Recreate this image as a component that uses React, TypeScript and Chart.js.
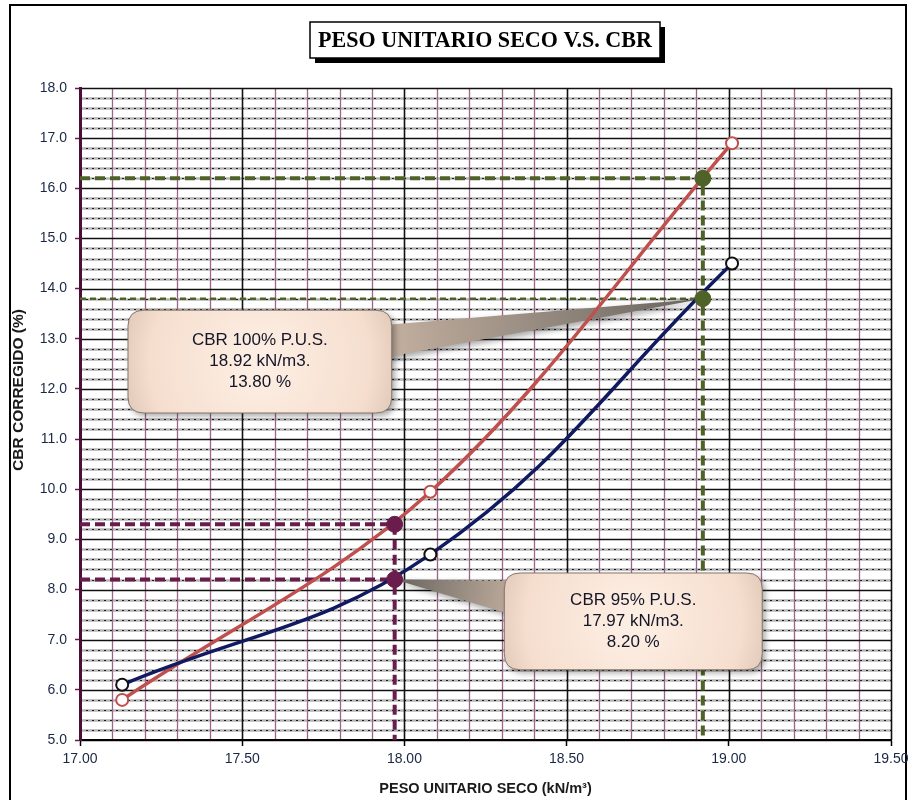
import React, { useEffect, useRef } from 'react';
import { Chart, registerables } from 'chart.js';

Chart.register(...registerables);

// ---- data ----
const pesoSeco = [17.13, 18.08, 19.01];
const cbrRed = [5.8, 9.95, 16.9];
const cbrBlue = [6.1, 8.7, 14.5];
const pus95 = 17.97;
const cbrAt95 = [9.3, 8.2];
const pus100 = 18.92;
const cbrAt100 = [16.2, 13.8];
const xMin = 17.0;
const xMax = 19.5;
const yMin = 5.0;
const yMax = 18.0;
const callout100Text = ['CBR 100% P.U.S.', '18.92 kN/m3.', '13.80 %'];
const callout95Text = ['CBR 95% P.U.S.', '17.97 kN/m3.', '8.20 %'];
const chartTitle = 'PESO UNITARIO SECO V.S. CBR';
const xTitle = 'PESO UNITARIO SECO (kN/m\u00B3)';
const yTitle = 'CBR CORREGIDO (%)';

const MAROON = '#6a1c4c';
const GREEN = '#4f6228';
const RED = '#c0504d';
const NAVY = '#0f1a60';
const TICK_COLOR = '#1a2744';
const SANS = '"Liberation Sans", Arial, sans-serif';

function roundRectPath(ctx: CanvasRenderingContext2D, l: number, t: number, r: number, b: number, rad: number) {
  ctx.beginPath();
  ctx.moveTo(l + rad, t);
  ctx.lineTo(r - rad, t);
  ctx.quadraticCurveTo(r, t, r, t + rad);
  ctx.lineTo(r, b - rad);
  ctx.quadraticCurveTo(r, b, r - rad, b);
  ctx.lineTo(l + rad, b);
  ctx.quadraticCurveTo(l, b, l, b - rad);
  ctx.lineTo(l, t + rad);
  ctx.quadraticCurveTo(l, t, l + rad, t);
  ctx.closePath();
}

function drawCallout(
  ctx: CanvasRenderingContext2D,
  box: { l: number; t: number; r: number; b: number },
  tip: { x: number; y: number },
  base: { x: number; y: number }[],
  lines: string[]
) {
  ctx.save();
  const mx = (base[0].x + base[1].x) / 2;
  const my = (base[0].y + base[1].y) / 2;
  const g = ctx.createLinearGradient(tip.x, tip.y, mx, my);
  g.addColorStop(0, '#67635e');
  g.addColorStop(1, '#c8b4a3');
  ctx.shadowColor = 'rgba(0,0,0,0.35)';
  ctx.shadowBlur = 6;
  ctx.shadowOffsetX = 3;
  ctx.shadowOffsetY = 3;
  ctx.beginPath();
  ctx.moveTo(tip.x, tip.y);
  ctx.lineTo(base[0].x, base[0].y);
  ctx.lineTo(base[1].x, base[1].y);
  ctx.closePath();
  ctx.fillStyle = g;
  ctx.fill();
  const cx = (box.l + box.r) / 2;
  const cy = (box.t + box.b) / 2;
  const rg = ctx.createRadialGradient(cx, cy, 10, cx, cy, (box.r - box.l) / 1.6);
  rg.addColorStop(0, '#fdeee3');
  rg.addColorStop(0.65, '#f5dece');
  rg.addColorStop(1, '#d2b9a8');
  roundRectPath(ctx, box.l, box.t, box.r, box.b, 16);
  ctx.fillStyle = rg;
  ctx.fill();
  ctx.shadowColor = 'transparent';
  ctx.strokeStyle = '#85756b';
  ctx.lineWidth = 1;
  ctx.stroke();
  ctx.fillStyle = '#141628';
  ctx.font = '17px ' + SANS;
  ctx.textAlign = 'center';
  ctx.textBaseline = 'middle';
  const lh = 21;
  const start = cy - lh;
  lines.forEach((s, i) => ctx.fillText(s, cx, start + i * lh));
  ctx.restore();
}

const decorPlugin = {
  id: 'decor',
  beforeDraw(chart: any) {
    const { ctx, chartArea: a, scales } = chart;
    const xs = scales.x;
    const ys = scales.y;
    ctx.save();
    ctx.strokeStyle = '#000';
    ctx.lineWidth = 2;
    ctx.strokeRect(10, 5, 896, 820);
    for (let i = 0; i <= 65; i++) {
      if (i % 5 === 0) continue;
      const v = yMin + i * 0.2;
      const py = Math.round(ys.getPixelForValue(v)) + 0.5;
      ctx.setLineDash([]);
      ctx.strokeStyle = '#b5b5b5';
      ctx.lineWidth = 2.5;
      ctx.beginPath();
      ctx.moveTo(a.left, py);
      ctx.lineTo(a.right, py);
      ctx.stroke();
      ctx.setLineDash([2, 4]);
      ctx.strokeStyle = '#1a1a1a';
      ctx.lineWidth = 1.2;
      ctx.beginPath();
      ctx.moveTo(a.left, py);
      ctx.lineTo(a.right, py);
      ctx.stroke();
    }
    ctx.setLineDash([]);
    for (let i = 0; i <= 25; i++) {
      if (i % 5 === 0) continue;
      const v = xMin + i * 0.1;
      const px = Math.round(xs.getPixelForValue(v)) + 0.5;
      ctx.strokeStyle = '#9c6489';
      ctx.lineWidth = 1.3;
      ctx.beginPath();
      ctx.moveTo(px, a.top);
      ctx.lineTo(px, a.bottom);
      ctx.stroke();
    }
    for (let v = yMin; v <= yMax + 1e-9; v += 1) {
      const py = Math.round(ys.getPixelForValue(v)) + 0.5;
      ctx.strokeStyle = '#111';
      ctx.lineWidth = 1.6;
      ctx.beginPath();
      ctx.moveTo(a.left, py);
      ctx.lineTo(a.right, py);
      ctx.stroke();
    }
    for (let i = 0; i <= 5; i++) {
      const v = xMin + i * 0.5;
      const px = Math.round(xs.getPixelForValue(v)) + 0.5;
      ctx.strokeStyle = '#111';
      ctx.lineWidth = 1.6;
      ctx.beginPath();
      ctx.moveTo(px, a.top);
      ctx.lineTo(px, a.bottom);
      ctx.stroke();
    }
    ctx.restore();
  },
  beforeDatasetDraw(chart: any, args: any) {
    const ds = chart.data.datasets[args.index];
    if (ds.label !== 'CBR (rojo)') return;
    const { ctx, scales } = chart;
    const xs = scales.x;
    const ys = scales.y;
    const X = (v: number) => xs.getPixelForValue(v);
    const Y = (v: number) => ys.getPixelForValue(v);
    const box1 = { l: X(17.148), r: X(17.961), t: Y(13.57), b: Y(11.52) };
    drawCallout(
      ctx,
      box1,
      { x: X(pus100), y: Y(cbrAt100[1]) },
      [
        { x: box1.r - 22, y: box1.t + 16 },
        { x: box1.r - 22, y: box1.t + 50 },
      ],
      callout100Text
    );
    const box2 = { l: X(18.308), r: X(19.103), t: Y(8.33), b: Y(6.4) };
    drawCallout(
      ctx,
      box2,
      { x: X(pus95), y: Y(cbrAt95[1]) },
      [
        { x: box2.l + 22, y: box2.t + 8 },
        { x: box2.l + 22, y: box2.t + 46 },
      ],
      callout95Text
    );
  },
  afterDraw(chart: any) {
    const { ctx } = chart;
    ctx.save();
    ctx.translate(19, 390);
    ctx.rotate(-Math.PI / 2);
    ctx.fillStyle = '#1a1a1a';
    ctx.font = 'bold 15.5px ' + SANS;
    ctx.textAlign = 'center';
    ctx.textBaseline = 'middle';
    ctx.fillText(yTitle, 0, 0);
    ctx.restore();

    ctx.save();
    let size = 19;
    ctx.font = `bold ${size}px "Liberation Serif", "Times New Roman", serif`;
    const w0 = ctx.measureText(chartTitle).width;
    size = (size * 334) / w0;
    ctx.font = `bold ${size.toFixed(2)}px "Liberation Serif", "Times New Roman", serif`;
    const cx = 485;
    const l = 310, r = 660, t = 22, b = 58;
    ctx.fillStyle = '#000';
    ctx.fillRect(l + 5, t + 5, r - l, b - t);
    ctx.fillStyle = '#fff';
    ctx.fillRect(l, t, r - l, b - t);
    ctx.strokeStyle = '#000';
    ctx.lineWidth = 1.5;
    ctx.strokeRect(l, t, r - l, b - t);
    ctx.fillStyle = '#000';
    ctx.textAlign = 'center';
    ctx.textBaseline = 'middle';
    ctx.fillText(chartTitle, cx, (t + b) / 2 + 1);
    ctx.restore();
  },
};

export default function App() {
  const ref = useRef<HTMLCanvasElement | null>(null);
  useEffect(() => {
    if (!ref.current) return;
    const pts = (xs: number[], ys: number[]) => xs.map((x, i) => ({ x, y: ys[i] }));
    const dashed = (data: { x: number; y: number }[], color: string, width: number, dash: number[]) => ({
      label: 'guia',
      data,
      borderColor: color,
      borderWidth: width,
      borderDash: dash,
      pointRadius: 0,
      tension: 0,
      fill: false,
      order: 2,
    });
    const chart = new Chart(ref.current, {
      type: 'line',
      data: {
        datasets: [
          {
            label: 'CBR 95%',
            data: [
              { x: pus95, y: cbrAt95[0] },
              { x: pus95, y: cbrAt95[1] },
            ],
            showLine: false,
            pointRadius: 8,
            pointBackgroundColor: MAROON,
            pointBorderColor: MAROON,
            order: 0,
          },
          {
            label: 'CBR 100%',
            data: [
              { x: pus100, y: cbrAt100[0] },
              { x: pus100, y: cbrAt100[1] },
            ],
            showLine: false,
            pointRadius: 8,
            pointBackgroundColor: GREEN,
            pointBorderColor: GREEN,
            order: 0,
          },
          {
            label: 'CBR (azul)',
            data: pts(pesoSeco, cbrBlue),
            borderColor: NAVY,
            borderWidth: 3.5,
            tension: 0.4,
            pointRadius: 6,
            pointBorderWidth: 2,
            pointBackgroundColor: '#fff',
            pointBorderColor: '#111',
            order: 1,
          },
          {
            label: 'CBR (rojo)',
            data: pts(pesoSeco, cbrRed),
            borderColor: RED,
            borderWidth: 3.5,
            tension: 0.35,
            pointRadius: 6,
            pointBorderWidth: 2,
            pointBackgroundColor: '#fff',
            pointBorderColor: RED,
            order: 1,
          },
          dashed([{ x: xMin, y: cbrAt95[0] }, { x: pus95, y: cbrAt95[0] }, { x: pus95, y: yMin }], MAROON, 4, [10, 5]),
          dashed([{ x: xMin, y: cbrAt95[1] }, { x: pus95, y: cbrAt95[1] }], MAROON, 4, [10, 5]),
          dashed([{ x: xMin, y: cbrAt100[0] }, { x: pus100, y: cbrAt100[0] }, { x: pus100, y: yMin }], GREEN, 4, [10, 5]),
          dashed([{ x: xMin, y: cbrAt100[1] }, { x: pus100, y: cbrAt100[1] }], GREEN, 2.5, [6, 4]),
        ] as any,
      },
      options: {
        animation: false,
        responsive: false,
        maintainAspectRatio: false,
        layout: { padding: { left: 0, right: 0, top: 88, bottom: 0 } },
        plugins: { legend: { display: false }, tooltip: { enabled: false }, title: { display: false } },
        scales: {
          x: {
            type: 'linear',
            min: xMin,
            max: xMax,
            afterFit: (s: any) => {
              s.height = 60;
              s.paddingRight = 20;
            },
            ticks: {
              stepSize: 0.5,
              color: TICK_COLOR,
              padding: 5,
              font: { size: 14, family: SANS },
              callback: (v: any) => Number(v).toFixed(2),
              maxRotation: 0,
            },
            grid: { drawOnChartArea: false, drawTicks: true, tickLength: 6, color: '#000', tickWidth: 1.5 },
            border: { color: '#000', width: 2 },
            title: {
              display: true,
              text: xTitle,
              color: '#1a1a1a',
              font: { size: 14.5, weight: 'bold', family: SANS },
              padding: { top: 0, bottom: 2 },
            },
          },
          y: {
            type: 'linear',
            min: yMin,
            max: yMax,
            afterFit: (s: any) => {
              s.width = 80;
            },
            ticks: {
              stepSize: 1,
              color: TICK_COLOR,
              padding: 8,
              font: { size: 14, family: SANS },
              callback: (v: any) => Number(v).toFixed(1),
            },
            grid: { drawOnChartArea: false, drawTicks: true, tickLength: 5, color: MAROON, tickWidth: 1.5 },
            border: { color: '#4b0f35', width: 3 },
            title: { display: false },
          },
        },
      } as any,
      plugins: [decorPlugin],
    });
    return () => chart.destroy();
  }, []);
  return (
    <div style={{ position: 'absolute', left: 0, top: 0, width: 911, height: 800, background: '#fff' }}>
      <canvas ref={ref} width={911} height={800} style={{ width: 911, height: 800, display: 'block' }} />
    </div>
  );
}
